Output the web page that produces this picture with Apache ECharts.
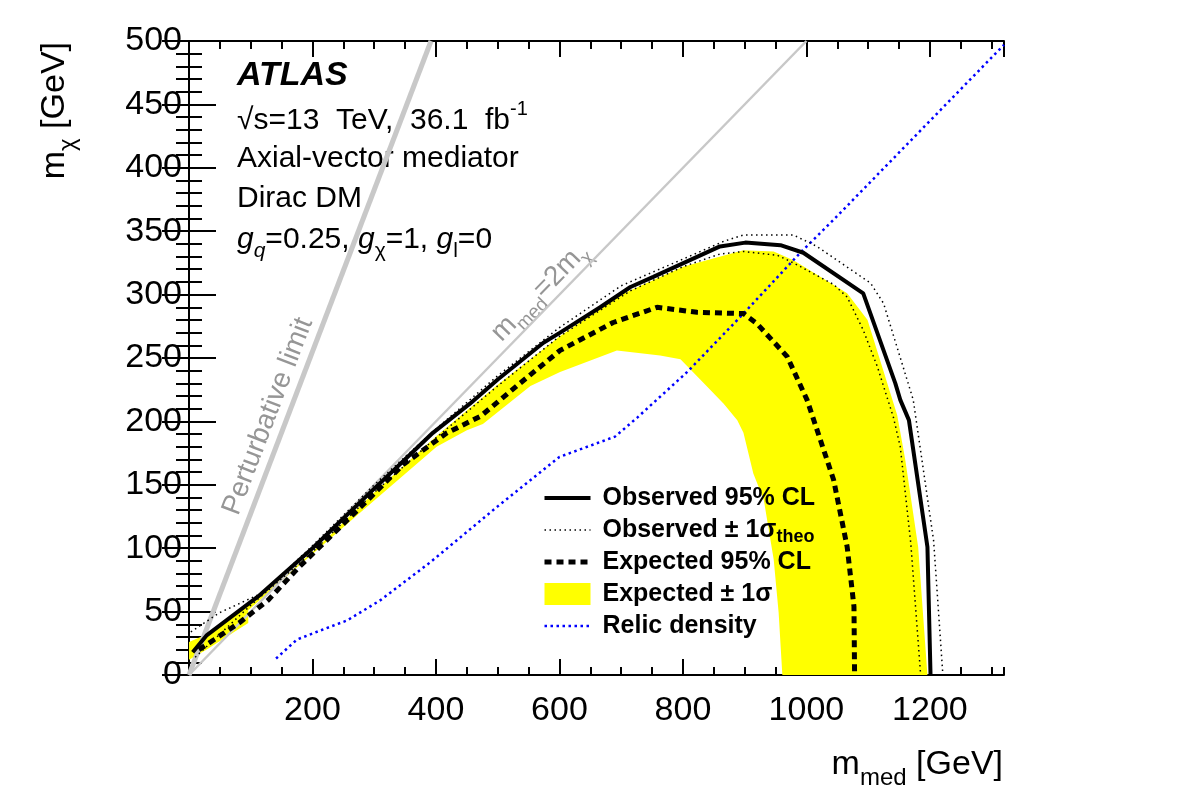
<!DOCTYPE html>
<html lang="en">
<head>
<meta charset="UTF-8">
<title>Axial-vector mediator limits</title>
<style>
    *{margin:0;padding:0;}
    body{background:#fff;}
    #main{width:1182px;height:805px;}
</style>
<script src="https://cdn.jsdelivr.net/npm/echarts@6/dist/echarts.min.js"></script>
</head>
<body>
<div id="main"></div>
<script>
    // [m_med, m_chi] in GeV
    let observed = [[6,18],[28,31],[112,62],[200,100],[300,147],[337,164],[395,191],[455,214],[500,233],[574,262],[601,270],[666,290],[715,306],[752,314],[860,338],[901,341],[958,339],[995,333],[1092,301],[1144,230],[1152,217],[1166,201],[1196,101],[1201,0]];
    let obsTheoUp = [[3,34],[49,49],[120,65],[200,102],[300,150],[400,194],[500,236],[600,274],[700,307],[800,328],[866,342],[898,347],[979,347],[1017,338],[1104,309],[1125,293],[1173,217],[1206,106],[1221,0]];
    let obsTheoDown = [[10,14],[100,55],[200,97],[300,144],[400,187],[500,228],[600,267],[715,303],[800,322],[860,332],[898,334],[953,331],[979,325],[1044,308],[1066,298],[1092,272],[1115,243],[1141,203],[1152,180],[1169,104],[1185,0]];
    let expected = [[16,20],[41,28],[81,41],[128,59],[178,85],[277,132],[347,166],[418,191],[472,204],[536,230],[601,256],[687,278],[758,290],[823,286],[898,285],[920,277],[969,251],[1001,217],[1044,154],[1066,101],[1077,54],[1078,0]];
    let bandUp = [[0,26],[28,32],[112,60],[200,97],[300,144],[400,188],[500,229],[600,267],[700,300],[800,322],[898,335],[947,334],[979,327],[1066,301],[1099,280],[1147,205],[1160,170],[1181,101],[1196,0]];
    let bandDown = [[0,12],[28,20],[96,41],[96,51],[173,84],[277,128],[401,180],[450,193],[476,198],[553,228],[601,239],[693,256],[763,252],[796,249],[828,233],[866,214],[888,201],[898,191],[914,159],[931,138],[947,91],[955,49],[961,0]];
    let relic = [[141,13],[175,28],[223,37],[256,43],[310,59],[391,89],[500,133],[600,172],[690,188],[726,203],[807,239],[898,285],[990,333],[1044,359],[1320,497]];
    let perturbative = [[0,0],[392,500]];
    let twoM = [[0,0],[1000,500]];

    let legendNames = ['Observed 95% CL', 'Observed ± 1σ theo', 'Expected 95% CL', 'Expected ± 1σ', 'Relic density'];

    const FONT = '"Liberation Sans", Arial, Helvetica, sans-serif';
    const XMAX = 1320, YMAX = 500;

    // line looks shared by the series and their legend entries
    let styles = {
        'Observed 95% CL': {color: '#000', width: 4, type: 'solid'},
        'Observed ± 1σ theo': {color: '#000', width: 1.5, type: [1.5, 3.5]},
        'Expected 95% CL': {color: '#000', width: 5, type: [7, 5]},
        'Relic density': {color: '#0000ff', width: 2.5, type: [2.5, 3.5]},
        'perturbative': {color: '#c8c8c8', width: 5, type: 'solid'},
        'twoM': {color: '#c8c8c8', width: 2.5, type: 'solid'}
    };

    let main = document.getElementById('main');
    let char = echarts.init(main);

    function xAx(pos, interval, len, labels) {
        return {
            type: 'value', min: 0, max: XMAX, interval: interval, position: pos,
            axisLine: {show: interval === 200, lineStyle: {color: '#000', width: 2}},
            axisTick: {show: true, inside: true, length: len, lineStyle: {color: '#000', width: 2}},
            axisLabel: {
                show: labels, color: '#000', fontSize: 34, fontFamily: FONT, margin: 19,
                showMinLabel: false, showMaxLabel: false,
                formatter: v => String(v)
            },
            splitLine: {show: false}
        };
    }
    function yAx(pos, labels) {
        return {
            type: 'value', min: 0, max: YMAX, interval: 50, position: pos,
            axisLine: {show: true, lineStyle: {color: '#000', width: 2}},
            axisTick: {show: true, inside: true, length: 27, lineStyle: {color: '#000', width: 2}},
            minorTick: {show: true, splitNumber: 5, length: 13, lineStyle: {color: '#000', width: 2}},
            axisLabel: {show: labels, color: '#000', fontSize: 34, fontFamily: FONT, margin: 7, formatter: v => String(v)},
            splitLine: {show: false}
        };
    }
    function line(name, data, z) {
        let s = styles[name];
        return {
            name: name, type: 'line', data: data, symbol: 'none', z: z,
            xAxisIndex: 0, yAxisIndex: 0, silent: true, animation: false,
            itemStyle: {color: s.color, opacity: 0},
            lineStyle: s
        };
    }

    let series = [
        {
            name: 'Expected ± 1σ', type: 'custom', z: 1, clip: true, silent: true, animation: false,
            xAxisIndex: 0, yAxisIndex: 0,
            itemStyle: {color: '#ffff00'},
            data: [[0, 0]],
            renderItem: function (params, api) {
                let pts = bandUp.concat(bandDown.slice().reverse()).map(p => api.coord(p));
                return {type: 'polygon', shape: {points: pts}, style: {fill: '#ffff00'}};
            }
        },
        line('perturbative', perturbative, 2),
        line('twoM', twoM, 2),
        line('Relic density', relic, 3),
        line('Observed ± 1σ theo', obsTheoDown, 4),
        line('Observed ± 1σ theo', obsTheoUp, 4),
        line('Expected 95% CL', expected, 5),
        line('Observed 95% CL', observed, 6)
    ];

    let option = {
        backgroundColor: '#fff',
        animation: false,
        grid: {left: 189, right: 178, top: 41, bottom: 130, containLabel: false},
        xAxis: [xAx('bottom', 200, 16, true), xAx('bottom', 50, 8, false), xAx('top', 200, 16, false), xAx('top', 50, 8, false)],
        yAxis: [yAx('left', true), yAx('right', false)],
        legend: {
            orient: 'vertical', left: 542, top: 482, padding: 0,
            itemWidth: 46, itemHeight: 22, itemGap: 0,
            selectedMode: false,
            data: legendNames.map(n => n === 'Expected ± 1σ'
                ? {name: n, icon: 'rect'}
                : {name: n, lineStyle: styles[n], itemStyle: {opacity: 0}}),
            formatter: function (name) {
                return name === 'Observed ± 1σ theo' ? 'Observed ± 1σ{sub|theo}' : name;
            },
            textStyle: {
                color: '#000', fontSize: 25, fontWeight: 'bold', fontFamily: FONT, lineHeight: 32,
                padding: [0, 0, 0, 7],
                rich: {sub: {fontSize: 18, fontWeight: 'bold', fontFamily: FONT, lineHeight: 10, verticalAlign: 'bottom'}}
            }
        },
        series
    };
    char.setOption(option);

    // text labels
    function rot(dx, dy) { return Math.atan2(dy, dx); }
    let p0 = char.convertToPixel({xAxisIndex: 0, yAxisIndex: 0}, [0, 0]);
    let pP = char.convertToPixel({xAxisIndex: 0, yAxisIndex: 0}, perturbative[1]);
    let pT = char.convertToPixel({xAxisIndex: 0, yAxisIndex: 0}, twoM[1]);
    let posP = char.convertToPixel({xAxisIndex: 0, yAxisIndex: 0}, [128, 204]);
    let posT = char.convertToPixel({xAxisIndex: 0, yAxisIndex: 0}, [568, 302]);

    let subStyle = {fontSize: 21, fontFamily: FONT, lineHeight: 18, verticalAlign: 'bottom'};
    let graphic = [
        {type: 'text', x: 237, y: 76, style: {text: 'ATLAS', font: 'italic bold 34px ' + FONT, fill: '#000', verticalAlign: 'middle'}},
        {type: 'text', x: 237, y: 121, style: {
            text: '√s=13  TeV,  36.1  fb{sup|-1}', fontSize: 30, fontFamily: FONT, lineHeight: 44, fill: '#000', verticalAlign: 'middle',
            rich: {sup: {fontSize: 20, fontFamily: FONT, lineHeight: 10, verticalAlign: 'top'}}
        }},
        {type: 'text', x: 237, y: 159, style: {text: 'Axial-vector mediator', fontSize: 30, fontFamily: FONT, fill: '#000', verticalAlign: 'middle'}},
        {type: 'text', x: 237, y: 199, style: {text: 'Dirac DM', fontSize: 30, fontFamily: FONT, fill: '#000', verticalAlign: 'middle'}},
        {type: 'text', x: 237, y: 240, style: {
            text: '{i|g}{is|q}=0.25, {i|g}{s|χ}=1, {i|g}{s|l}=0', fontSize: 30, fontFamily: FONT, lineHeight: 44, fill: '#000', verticalAlign: 'middle',
            rich: {
                i: {fontSize: 30, fontStyle: 'italic', fontFamily: FONT, lineHeight: 44},
                is: Object.assign({fontStyle: 'italic'}, subStyle),
                s: subStyle
            }
        }},
        {type: 'text', x: 1003, y: 765, style: {
            text: 'm{s|med} [GeV]', fontSize: 34, fontFamily: FONT, lineHeight: 50, fill: '#000', align: 'right', verticalAlign: 'middle',
            rich: {s: {fontSize: 24, fontFamily: FONT, lineHeight: 20, verticalAlign: 'bottom'}}
        }},
        {type: 'text', x: 55, y: 42, rotation: Math.PI / 2, style: {
            text: 'm{s|χ} [GeV]', fontSize: 34, fontFamily: FONT, lineHeight: 50, fill: '#000', align: 'right', verticalAlign: 'middle',
            rich: {s: {fontSize: 24, fontFamily: FONT, lineHeight: 20, verticalAlign: 'bottom'}}
        }},
        {type: 'text', x: posP[0], y: posP[1], rotation: rot(pP[0] - p0[0], p0[1] - pP[1]), style: {
            text: 'Perturbative limit', fontSize: 28, fontFamily: FONT, fill: '#969696', align: 'center', verticalAlign: 'middle'
        }},
        {type: 'text', x: posT[0], y: posT[1], rotation: rot(pT[0] - p0[0], p0[1] - pT[1]), style: {
            text: 'm{s|med}=2m{s|χ}', fontSize: 28, fontFamily: FONT, lineHeight: 40, fill: '#969696', align: 'center', verticalAlign: 'middle',
            rich: {s: {fontSize: 19, fontFamily: FONT, fill: '#969696', lineHeight: 16, verticalAlign: 'bottom'}}
        }}
    ];
    char.setOption({graphic: graphic});
</script>
</body>
</html>
